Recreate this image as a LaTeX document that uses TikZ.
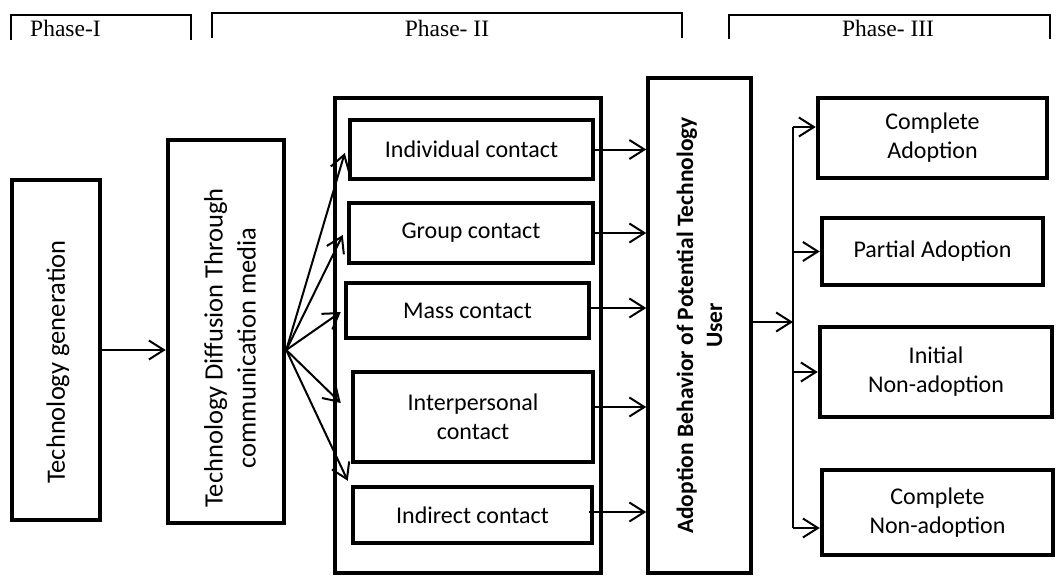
\documentclass[tikz,border=0pt]{standalone}
\usepackage{fontspec}
\newfontfamily\calfont{Carlito}
\newfontfamily\tnrfont{Liberation Serif}
\usetikzlibrary{arrows.meta,calc}
\begin{document}
\begin{tikzpicture}[x=1pt,y=-1pt,
  box/.style={draw, line width=4.5pt, inner sep=0pt, align=center,
    font=\calfont\fontsize{24}{29}\selectfont},
  vbox/.style={box, rotate=90},
  vtext/.style={rotate=90, inner sep=0pt, align=center, font=\calfont\fontsize{26.5}{33}\selectfont},
  arr/.style={line width=2pt, -{Straight Barb[length=15pt,width=19pt]}},
  bracket/.style={line width=2pt},
  phase/.style={anchor=base, inner sep=0pt, font=\tnrfont\fontsize{23.5}{27}\selectfont}]
\fill[white] (0,0) rectangle (1056,575);
\useasboundingbox (0,0) rectangle (1056,575);

% phase brackets
\draw[bracket] (11,40) -- (11,15) -- (191,15) -- (191,40);
\draw[bracket] (212,38) -- (212,13) -- (682,13) -- (682,38);
\draw[bracket] (729,39) -- (729,15) -- (1050,15) -- (1050,39);
\node[phase, anchor=base west] (p1) at (30,37) {Phase-I};
\node[phase] (p2) at (447,37) {Phase- II};
\node[phase] (p3) at (888,37) {Phase- III};

% left boxes (rotated: north = left side, south = right side)
\node[vbox, minimum width=340pt, minimum height=88pt] (tg) at (56,350) {};
\node[vtext] (tgt) at (58,362) {Technology generation};
\node[vbox, minimum width=383pt, minimum height=116pt] (diff) at (226,331.5) {};
\node[vtext] (difft) at (230,348) {Technology Diffusion Through\\communication media};

% container
\node[draw, line width=4pt, minimum width=266pt, minimum height=475pt, inner sep=0pt] (cont) at (468,335.5) {};
\node[box, minimum width=243pt, minimum height=59pt] (ic) at (471.5,149.5) {Individual contact};
\node[box, minimum width=244pt, minimum height=60pt] (gc) at (471,233) {Group contact};
\node[box, minimum width=243pt, minimum height=55pt] (mc) at (467.5,310.5) {Mass contact};
\node[box, minimum width=240pt, minimum height=90pt] (ip) at (473,417) {Interpersonal\\contact};
\node[box, minimum width=239pt, minimum height=56pt] (ind) at (472.5,515) {Indirect contact};

% adoption behaviour
\node[box, rotate=90, line width=3.5pt, minimum width=495pt, minimum height=103pt,
  font=\calfont\bfseries\fontsize{23.5}{29}\selectfont] (ad) at (699.5,325.5)
  {Adoption Behavior of Potential Technology\\User};

% right boxes
\node[box, minimum width=229pt, minimum height=80pt] (ca) at (932.5,138) {Complete\\Adoption};
\node[box, minimum width=221pt, minimum height=67pt] (pa) at (932.5,251.5) {Partial Adoption};
\node[box, minimum width=232pt, minimum height=90pt] (in) at (936,372) {Initial\\Non-adoption};
\node[box, minimum width=231pt, minimum height=85pt] (cn) at (937.5,512.5) {Complete\\Non-adoption};

% connectors
\draw[arr] (tg.south) -- (tg.south -| diff.north);
\coordinate (fan) at ([yshift=-18.5pt]diff.south);
\draw[arr] (fan) -- ([xshift=-3pt,yshift=-3.5pt]ic.west);
\draw[arr] (fan) -- ([xshift=-4pt,yshift=-2pt]gc.west);
\draw[arr] (fan) -- ([xshift=-3pt,yshift=-1.5pt]mc.west);
\draw[arr] (fan) -- ([xshift=-10pt,yshift=14pt]ip.west);
\draw[arr] (fan) -- ([xshift=-3pt,yshift=4pt]ind.north west);

\draw[arr] (ic.east) -- (ic.east -| ad.north);
\draw[arr] (gc.east) -- (gc.east -| ad.north);
\draw[arr] ([yshift=2.5pt]mc.east) coordinate (mce) -- (mce -| ad.north);
\draw[arr] ([yshift=10pt]ip.east) coordinate (ipe) -- (ipe -| ad.north);
\draw[arr] ([xshift=-5pt,yshift=3pt]ind.east) coordinate (inde) -- (inde -| ad.north);

\coordinate (split) at (793,322);
\coordinate (vtop) at (793,127);
\coordinate (vbot) at (793,528);
\draw[arr] ([yshift=3.5pt]ad.south) coordinate (ade) -- (ade -| split);
\draw[line width=1.6pt] (vtop) -- (vbot);
\draw[arr] (vtop) -- (vtop -| ca.west);
\draw[arr] (split |- pa.west) -- (pa.west);
\draw[arr] (split |- in.west) -- (in.west);
\draw[arr] (vbot) -- (vbot -| cn.west);
\end{tikzpicture}
\end{document}
